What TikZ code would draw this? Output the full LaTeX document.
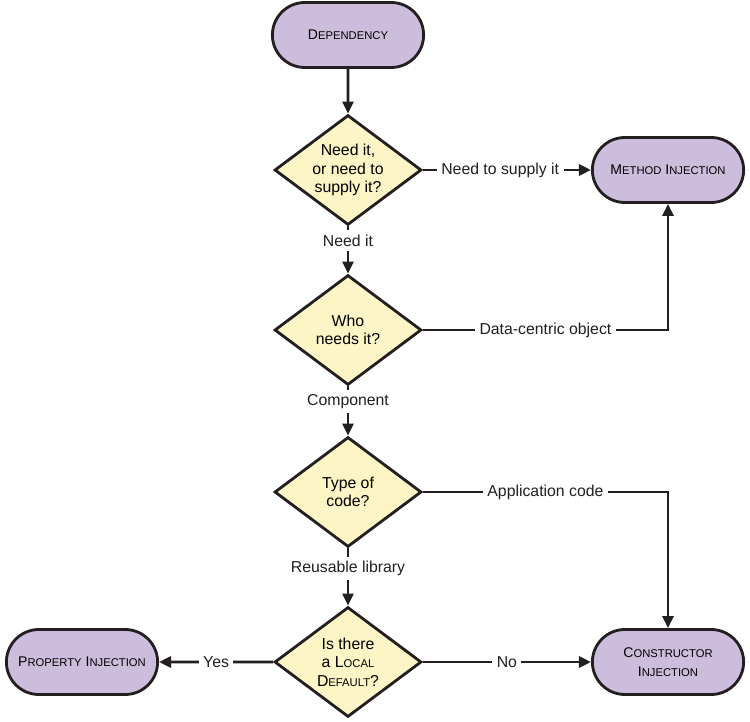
\documentclass[tikz,border=0pt]{standalone}
\usepackage{fontspec}
\setmainfont{Liberation Sans}
\usetikzlibrary{shapes.geometric, shapes.misc, arrows.meta, positioning}
\definecolor{inkcolor}{HTML}{231F20}
\definecolor{terminalfill}{HTML}{CDBDDC}
\definecolor{decisionfill}{HTML}{FDF5C6}
\newcommand\capsc[2]{#1{\fontsize{6.4}{8}\selectfont\MakeUppercase{#2}}}

\begin{document}
\begin{tikzpicture}[x=0.02cm, y=-0.02cm, line width=1.6pt,
  every node/.style={font=\fontsize{9}{10.6}\selectfont}]

\tikzset{
  flowline/.style={-{Triangle[length=2.4mm, width=2.2mm]}, inkcolor},
  decision/.style={diamond, draw=inkcolor, fill=decisionfill, aspect=1.33,
    inner sep=0pt, minimum width=2.94cm, minimum height=2.2cm, align=center},
  terminal/.style={rounded rectangle, draw=inkcolor, fill=terminalfill,
    minimum width=3.26cm, minimum height=1.3cm, align=center,
    font=\fontsize{8}{10.8}\selectfont},
  edgelabel/.style={fill=white, inner sep=2.5pt, text=inkcolor},
}

\useasboundingbox (0,0) rectangle (750,722);

% ---- main column: questions ----
\node[terminal] (dep) at (348,35) {\capsc{D}{ependency}};
\node[decision] (needq) at (348,170) {Need it,\\or need to\\supply it?};
\node[decision] (whoq)  at (348,330) {Who\\needs it?};
\node[decision] (codeq) at (348,492) {Type of\\code?};
\node[decision] (defq)  at (348,662) {Is there\\a \capsc{L}{ocal}\\\capsc{D}{efault}?};

% ---- outcomes ----
\node[terminal] (method) at (668,170) {\capsc{M}{ethod} \capsc{I}{njection}};
\node[terminal] (prop)   at (82,662)  {\capsc{P}{roperty} \capsc{I}{njection}};
\node[terminal] (ctor)   at (668,662) {\capsc{C}{onstructor}\\\capsc{I}{njection}};

% ---- connectors ----
\draw[flowline] (dep) -- (needq);
\draw[flowline] (needq) -- node[edgelabel, pos=0.46] {Need to supply it} (method);
\draw[flowline] (needq) -- node[edgelabel, pos=0.3] {Need it} (whoq);
\draw[flowline] (whoq.east) -| node[edgelabel, pos=0.25] {Data-centric object} (method.south);
\draw[flowline] (whoq) -- node[edgelabel, pos=0.3] {Component} (codeq);
\draw[flowline] (codeq.east) -| node[edgelabel, pos=0.25] {Application code} (ctor.north);
\draw[flowline] (codeq) -- node[edgelabel, pos=0.35] {Reusable library} (defq);
\draw[flowline] (defq) -- node[edgelabel] {Yes} (prop);
\draw[flowline] (defq) -- node[edgelabel] {No} (ctor);

\end{tikzpicture}
\end{document}
